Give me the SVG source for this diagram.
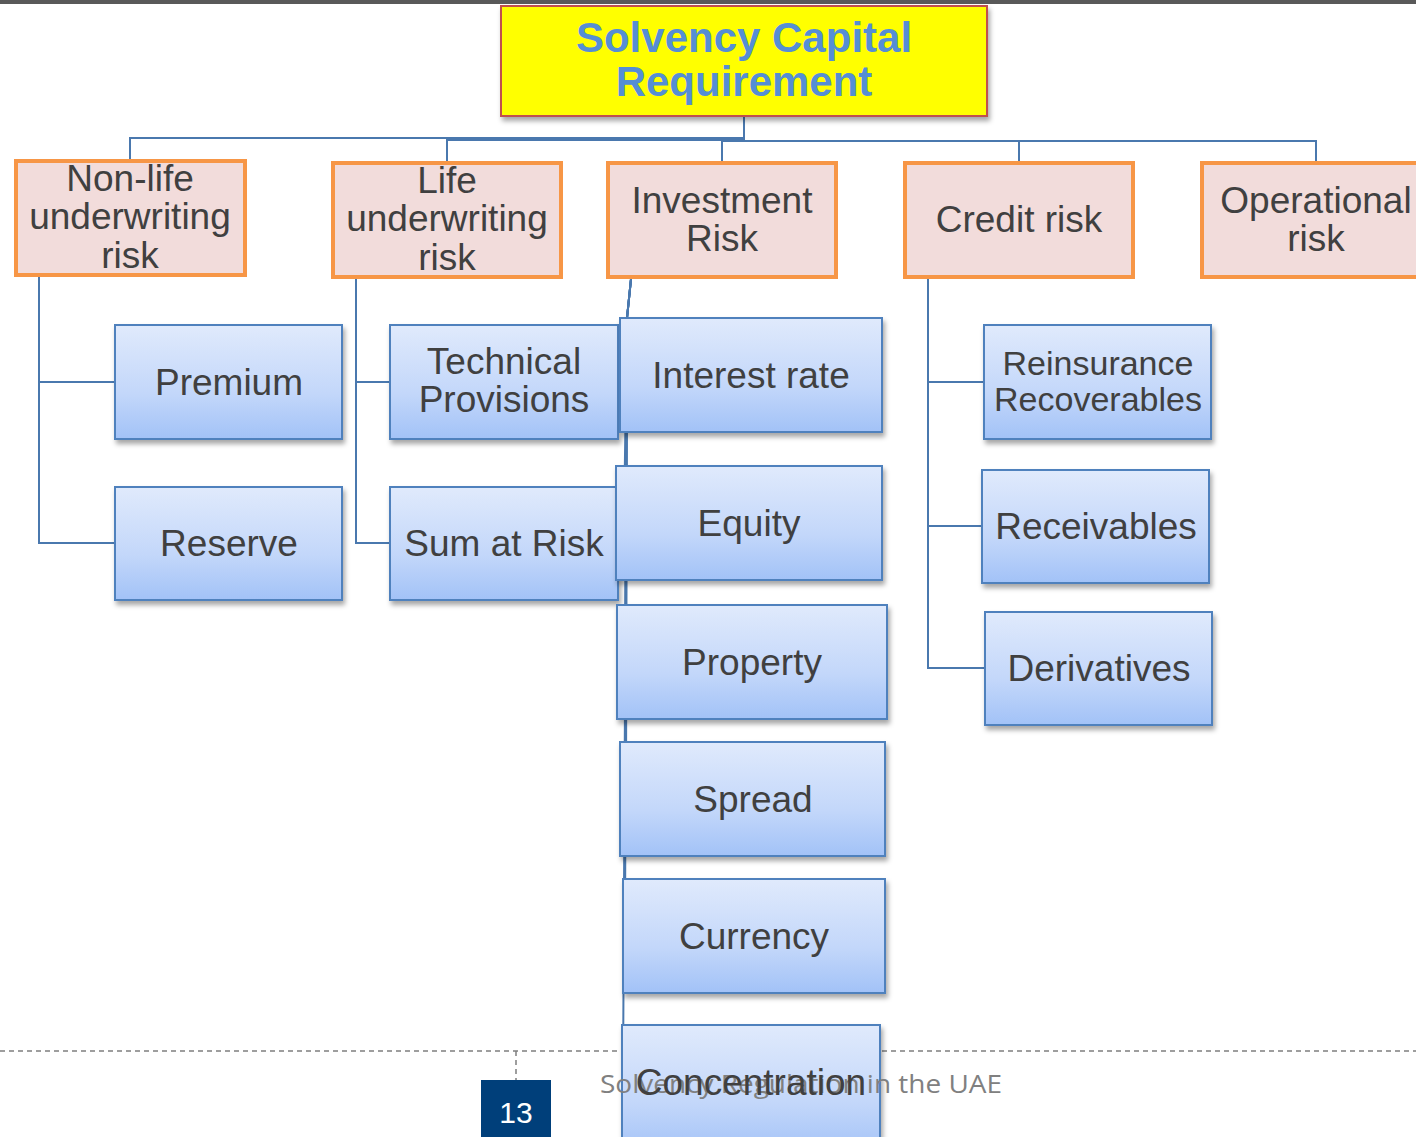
<svg xmlns="http://www.w3.org/2000/svg" width="1416" height="1137" viewBox="0 0 1416 1137">
<defs>
<linearGradient id="blueGrad" x1="0" y1="0" x2="0" y2="1">
<stop offset="0" stop-color="#E0EAFC"/>
<stop offset="0.6" stop-color="#C3D7FA"/>
<stop offset="1" stop-color="#A2C2F7"/>
</linearGradient>
<filter id="shadow" x="-10%" y="-10%" width="125%" height="135%">
<feDropShadow dx="2" dy="4" stdDeviation="2.5" flood-color="#000" flood-opacity="0.35"/>
</filter>
<style>
.conn{fill:none;stroke:#4A78AE;stroke-width:2}
.l1{fill:#F2DCDB;stroke:#F79646;stroke-width:4}
.l2{fill:url(#blueGrad);stroke:#4F81BD;stroke-width:2;filter:url(#shadow)}
.t{font-family:"Liberation Sans",Arial,sans-serif;font-size:37px;fill:#404040;text-anchor:middle}
.ts{font-size:34px}
.title{font-family:"Liberation Sans",Arial,sans-serif;font-size:42px;font-weight:bold;fill:#558ED5;text-anchor:middle}
</style>
</defs>
<rect x="0" y="0" width="1416" height="1137" fill="#FFFFFF"/>
<rect x="0" y="0" width="1416" height="4" fill="#595959"/>

<g id="footer-line">
<line x1="0" y1="1051" x2="1416" y2="1051" stroke="#7F7F7F" stroke-width="1.5" stroke-dasharray="5 4"/>
<line x1="516" y1="1051" x2="516" y2="1080" stroke="#7F7F7F" stroke-width="1.5" stroke-dasharray="5 4"/>
</g>

<g id="connectors">
<path class="conn" d="M744,116 V141"/>
<path class="conn" d="M744,138 H130 V160"/>
<path class="conn" d="M744,140 H447 V162"/>
<path class="conn" d="M744,141 H722 V162"/>
<path class="conn" d="M722,141 H1019 V162"/>
<path class="conn" d="M1019,141 H1316 V162"/>
<path class="conn" d="M39,277 V543 H115"/>
<path class="conn" d="M39,382 H115"/>
<path class="conn" d="M356,279 V543 H390"/>
<path class="conn" d="M356,382 H390"/>
<path class="conn" d="M631,279 L627,318 L626,375"/>
<path class="conn" d="M631,279 L627,318 L624,523"/>
<path class="conn" d="M631,279 L627,318 L625,662"/>
<path class="conn" d="M631,279 L627,318 L626,799"/>
<path class="conn" d="M631,279 L627,318 L625,936"/>
<path class="conn" d="M631,279 L627,318 L623,1081"/>
<path class="conn" d="M928,279 V668 H985"/>
<path class="conn" d="M928,382 H984"/>
<path class="conn" d="M928,526 H982"/>
</g>

<g id="root">
<rect x="501" y="6" width="486" height="110" fill="#FFFF00" stroke="#C0504D" stroke-width="2" filter="url(#shadow)"/>
<text class="title" x="744" y="52">Solvency Capital</text>
<text class="title" x="744" y="96">Requirement</text>
</g>

<g id="nonlife">
<rect class="l1" x="16" y="161" width="229" height="114"/>
<text class="t" x="130" y="191">Non-life</text>
<text class="t" x="130" y="229">underwriting</text>
<text class="t" x="130" y="268">risk</text>
</g>
<g id="life">
<rect class="l1" x="333" y="163" width="228" height="114"/>
<text class="t" x="447" y="193">Life</text>
<text class="t" x="447" y="231">underwriting</text>
<text class="t" x="447" y="270">risk</text>
</g>
<g id="investment">
<rect class="l1" x="608" y="163" width="228" height="114"/>
<text class="t" x="722" y="213">Investment</text>
<text class="t" x="722" y="251">Risk</text>
</g>
<g id="credit">
<rect class="l1" x="905" y="163" width="228" height="114"/>
<text class="t" x="1019" y="232">Credit risk</text>
</g>
<g id="operational">
<rect class="l1" x="1202" y="163" width="240" height="114"/>
<text class="t" x="1316" y="213">Operational</text>
<text class="t" x="1316" y="251">risk</text>
</g>

<g id="premium">
<rect class="l2" x="115" y="325" width="227" height="114"/>
<text class="t" x="229" y="395">Premium</text>
</g>
<g id="reserve">
<rect class="l2" x="115" y="487" width="227" height="113"/>
<text class="t" x="229" y="556">Reserve</text>
</g>
<g id="technical-provisions">
<rect class="l2" x="390" y="325" width="228" height="114"/>
<text class="t" x="504" y="374">Technical</text>
<text class="t" x="504" y="412">Provisions</text>
</g>
<g id="sum-at-risk">
<rect class="l2" x="390" y="487" width="228" height="113"/>
<text class="t" x="504" y="556">Sum at Risk</text>
</g>

<g id="interest-rate">
<rect class="l2" x="620" y="318" width="262" height="114"/>
<text class="t" x="751" y="388">Interest rate</text>
</g>
<g id="equity">
<rect class="l2" x="616" y="466" width="266" height="114"/>
<text class="t" x="749" y="536">Equity</text>
</g>
<g id="property">
<rect class="l2" x="617" y="605" width="270" height="114"/>
<text class="t" x="752" y="675">Property</text>
</g>
<g id="spread">
<rect class="l2" x="620" y="742" width="265" height="114"/>
<text class="t" x="753" y="812">Spread</text>
</g>
<g id="currency">
<rect class="l2" x="623" y="879" width="262" height="114"/>
<text class="t" x="754" y="949">Currency</text>
</g>
<g id="concentration">
<rect class="l2" x="622" y="1025" width="258" height="130"/>
</g>

<g id="reinsurance">
<rect class="l2" x="984" y="325" width="227" height="114"/>
<text class="t ts" x="1098" y="375">Reinsurance</text>
<text class="t ts" x="1098" y="411">Recoverables</text>
</g>
<g id="receivables">
<rect class="l2" x="982" y="470" width="227" height="113"/>
<text class="t" x="1096" y="539">Receivables</text>
</g>
<g id="derivatives">
<rect class="l2" x="985" y="612" width="227" height="113"/>
<text class="t" x="1099" y="681">Derivatives</text>
</g>

<g id="footer">
<text x="600" y="1093" font-family="'Open Sans','Liberation Sans',sans-serif" font-size="26" fill="#808080" textLength="402" lengthAdjust="spacingAndGlyphs">Solvency Regulation in the UAE</text>
<rect x="481" y="1080" width="70" height="60" fill="#003F7A"/>
<text x="516" y="1123" font-family="'Liberation Sans',Arial,sans-serif" font-size="30" fill="#FFFFFF" text-anchor="middle">13</text>
</g>
<text class="t" x="751" y="1095">Concentration</text>
</svg>
